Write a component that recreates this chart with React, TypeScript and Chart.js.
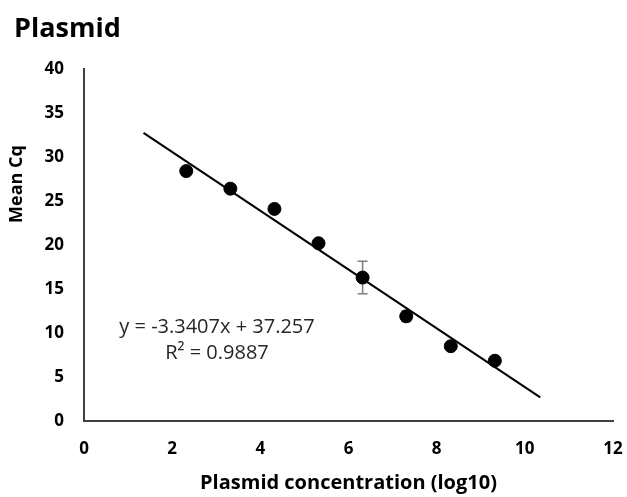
import React, { useEffect, useRef } from 'react';
import { Chart, registerables } from 'chart.js';

Chart.register(...registerables);

// ---- data ----
const concentrationLog10 = [2.32, 3.32, 4.32, 5.32, 6.32, 7.31, 8.32, 9.32];
const meanCq = [28.4, 26.4, 24.1, 20.2, 16.3, 11.9, 8.5, 6.85];
const cqError = [0.3, 0.3, 0.3, 0.3, 1.85, 0.6, 0.3, 0.3];
const trendRange = [1.35, 10.35];
const trendSlope = -3.3407;
const trendIntercept = 37.257;
const xTickValues = [0, 2, 4, 6, 8, 10, 12];
const yTickValues = [0, 5, 10, 15, 20, 25, 30, 35, 40];
const chartTitle = 'Plasmid';
const xAxisTitle = 'Plasmid concentration (log10)';
const yAxisTitle = 'Mean Cq';
const equationLines = ['y = -3.3407x + 37.257', 'R² = 0.9887'];

const FONT = '"Open Sans", sans-serif';

const overlayPlugin = {
  id: 'overlay',
  beforeDatasetsDraw(chart: any) {
    const ctx = chart.ctx;
    const xs = chart.scales.x;
    const ys = chart.scales.y;
    ctx.save();
    ctx.strokeStyle = '#7f7f7f';
    ctx.lineWidth = 1.5;
    concentrationLog10.forEach((xv, i) => {
      const px = xs.getPixelForValue(xv);
      const top = ys.getPixelForValue(meanCq[i] + cqError[i]);
      const bot = ys.getPixelForValue(meanCq[i] - cqError[i]);
      ctx.beginPath();
      ctx.moveTo(px, top);
      ctx.lineTo(px, bot);
      ctx.moveTo(px - 5, top);
      ctx.lineTo(px + 5, top);
      ctx.moveTo(px - 5, bot);
      ctx.lineTo(px + 5, bot);
      ctx.stroke();
    });
    ctx.restore();
  },
  afterDraw(chart: any) {
    const ctx = chart.ctx;
    const area = chart.chartArea;
    ctx.save();
    ctx.fillStyle = '#000000';
    // title
    ctx.font = `bold 27px ${FONT}`;
    ctx.textAlign = 'left';
    ctx.textBaseline = 'alphabetic';
    ctx.fillText(chartTitle, 14, 37);
    // x axis title
    ctx.font = `bold 20px ${FONT}`;
    ctx.textAlign = 'center';
    ctx.textBaseline = 'middle';
    ctx.fillText(xAxisTitle, (area.left + area.right) / 2, 483);
    // y axis title
    ctx.font = `bold 18px ${FONT}`;
    ctx.save();
    ctx.translate(17, 184);
    ctx.rotate(-Math.PI / 2);
    ctx.fillText(yAxisTitle, 0, 0);
    ctx.restore();
    // equation
    ctx.fillStyle = '#262626';
    ctx.font = `20px ${FONT}`;
    ctx.fillText(equationLines[0], 217, 327);
    ctx.fillText(equationLines[1], 217, 353);
    ctx.restore();
  },
};

export default function App() {
  const ref = useRef<HTMLCanvasElement | null>(null);

  useEffect(() => {
    document.body.style.margin = '0';
    const canvas = ref.current;
    if (!canvas) return;
    const chart = new Chart(canvas, {
      type: 'scatter',
      data: {
        datasets: [
          {
            type: 'line',
            label: 'Trend',
            data: trendRange.map((x) => ({ x, y: trendSlope * x + trendIntercept })),
            borderColor: '#000000',
            borderWidth: 2,
            pointRadius: 0,
            fill: false,
          },
          {
            label: 'Mean Cq',
            data: concentrationLog10.map((x, i) => ({ x, y: meanCq[i] })),
            backgroundColor: '#000000',
            borderColor: '#000000',
            pointRadius: 6.5,
            pointHoverRadius: 6.5,
          },
        ],
      },
      options: {
        responsive: false,
        animation: false,
        devicePixelRatio: 1,
        layout: { padding: { top: 69, right: 14, left: 0, bottom: 0 } },
        plugins: {
          legend: { display: false },
          title: { display: false },
          tooltip: { enabled: false },
        },
        scales: {
          x: {
            type: 'linear',
            min: 0,
            max: 12,
            afterFit: (s: any) => { s.height = 76; s.paddingLeft = 0; s.paddingRight = 0; },
            afterBuildTicks: (s: any) => { s.ticks = xTickValues.map((v) => ({ value: v })); },
            grid: { display: false, drawTicks: false },
            border: { display: true, color: '#404040', width: 2 },
            ticks: {
              padding: 18,
              color: '#000000',
              font: { family: FONT, size: 17, weight: 'bold' },
            },
          },
          y: {
            type: 'linear',
            min: 0,
            max: 40,
            afterFit: (s: any) => { s.width = 84; s.paddingTop = 0; s.paddingBottom = 0; },
            afterBuildTicks: (s: any) => { s.ticks = yTickValues.map((v) => ({ value: v })); },
            grid: { display: false, drawTicks: false },
            border: { display: true, color: '#404040', width: 2 },
            ticks: {
              padding: 20,
              color: '#000000',
              font: { family: FONT, size: 17, weight: 'bold' },
            },
          },
        },
      },
      plugins: [overlayPlugin],
    } as any);
    return () => chart.destroy();
  }, []);

  return (
    <div style={{ position: 'absolute', left: 0, top: 0, width: 627, height: 497 }}>
      <canvas ref={ref} width={627} height={497} />
    </div>
  );
}
